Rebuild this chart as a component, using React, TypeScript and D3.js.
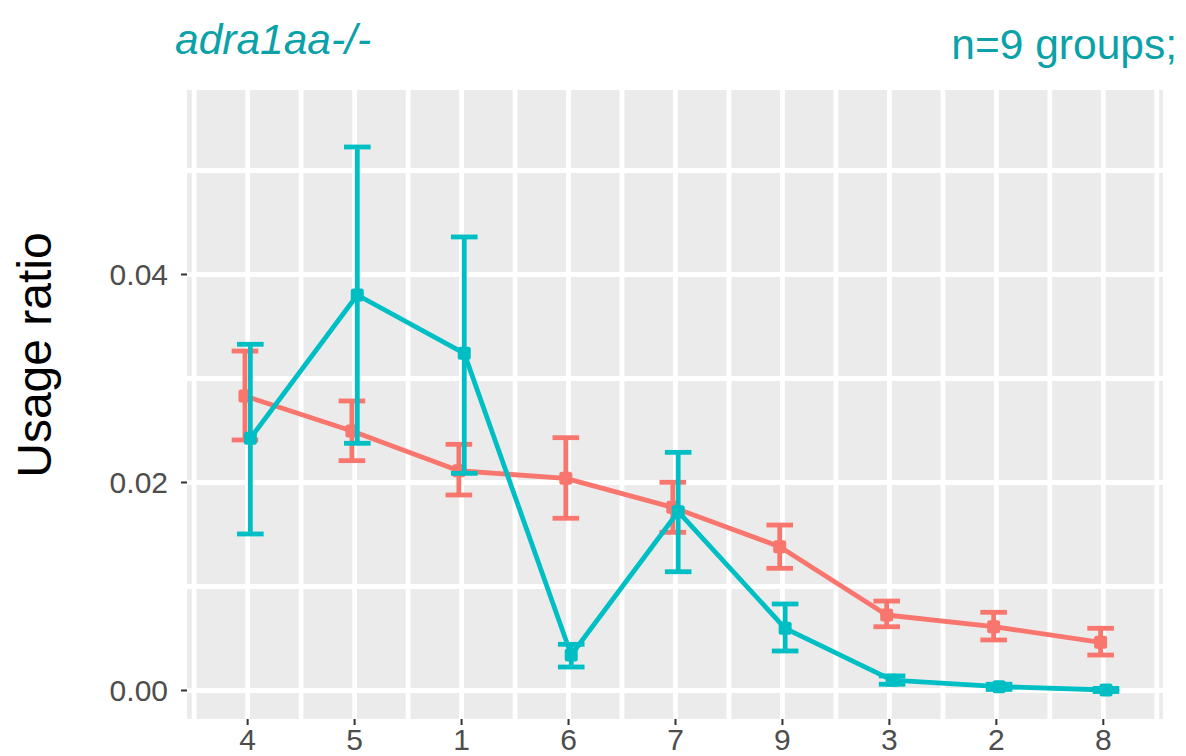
import React from "react";
import * as d3 from "d3";

const categories = ["4", "5", "1", "6", "7", "9", "3", "2", "8"];
const salmonMean = [0.02832, 0.02495, 0.02113, 0.0204, 0.01761, 0.01383, 0.00726, 0.00614, 0.00463];
const salmonLow = [0.02409, 0.0221, 0.0188, 0.01656, 0.01521, 0.01175, 0.00613, 0.00486, 0.00341];
const salmonHigh = [0.03264, 0.02784, 0.02367, 0.02431, 0.02002, 0.01591, 0.0086, 0.00752, 0.00598];
const tealMean = [0.02425, 0.03803, 0.03242, 0.00341, 0.01719, 0.00598, 0.00099, 0.00037, 0.00005];
const tealLow = [0.01505, 0.02377, 0.02088, 0.00226, 0.01142, 0.0038, 0.0006, 0.0001, -0.0001];
const tealHigh = [0.03329, 0.05226, 0.04361, 0.00444, 0.0229, 0.00832, 0.0014, 0.0006, 0.0002];
const yMajor = [0, 0.02, 0.04];
const yMinor = [0.01, 0.03, 0.05];
const yTickLabels = ["0.00", "0.02", "0.04"];
const titleLeft = "adra1aa-/-";
const titleRight = "n=9 groups;";
const yLabel = "Usage ratio";

const W = 1186, H = 756;
const panel = { left: 187, right: 1163, top: 90, bottom: 719 };
const FONT = "'Liberation Sans', Arial, sans-serif";

export default function App() {
  const x = d3.scaleLinear().domain([0.433, 9.558]).range([panel.left, panel.right]);
  const y = d3.scaleLinear().domain([0, 0.04]).range([690.5, 274.5]);
  const idx = categories.map((_, i) => i + 1);
  const xMinor = d3.range(0.5, categories.length + 1, 1);

  const series = [
    { color: "#F8766D", mean: salmonMean, lo: salmonLow, hi: salmonHigh, dx: -2.7 },
    { color: "#00BFC4", mean: tealMean, lo: tealLow, hi: tealHigh, dx: 2.7 },
  ];
  const line = d3.line<[number, number]>().x(d => d[0]).y(d => d[1]);

  return (
    <svg width={W} height={H} style={{ position: "absolute", left: 0, top: 0, background: "#fff" }}>
      <rect x={panel.left} y={panel.top} width={panel.right - panel.left} height={panel.bottom - panel.top} fill="#EBEBEB" />
      {yMinor.map(v => (
        <line key={"ym" + v} x1={panel.left} x2={panel.right} y1={y(v)} y2={y(v)} stroke="#fff" strokeWidth={4.8} />
      ))}
      {yMajor.map(v => (
        <line key={"yM" + v} x1={panel.left} x2={panel.right} y1={y(v)} y2={y(v)} stroke="#fff" strokeWidth={4.8} />
      ))}
      {xMinor.map(v => (
        <line key={"xm" + v} x1={x(v)} x2={x(v)} y1={panel.top} y2={panel.bottom} stroke="#fff" strokeWidth={4.8} />
      ))}
      {idx.map(v => (
        <line key={"xM" + v} x1={x(v)} x2={x(v)} y1={panel.top} y2={panel.bottom} stroke="#fff" strokeWidth={4.8} />
      ))}
      {series.map((s, si) => (
        <g key={si}>
          {idx.map((v, i) => {
            const cx = x(v) + s.dx;
            return (
              <g key={i}>
                <line x1={cx} x2={cx} y1={y(s.lo[i])} y2={y(s.hi[i])} stroke={s.color} strokeWidth={4.8} />
                <line x1={cx - 13.3} x2={cx + 13.3} y1={y(s.lo[i])} y2={y(s.lo[i])} stroke={s.color} strokeWidth={4.8} />
                <line x1={cx - 13.3} x2={cx + 13.3} y1={y(s.hi[i])} y2={y(s.hi[i])} stroke={s.color} strokeWidth={4.8} />
              </g>
            );
          })}
          <path
            d={line(idx.map((v, i) => [x(v) + s.dx, y(s.mean[i])]) as [number, number][]) || ""}
            fill="none"
            stroke={s.color}
            strokeWidth={4.8}
            strokeLinejoin="round"
          />
          {idx.map((v, i) => (
            <rect key={"p" + i} x={x(v) + s.dx - 6.5} y={y(s.mean[i]) - 6.5} width={13} height={13} rx={2.5} fill={s.color} />
          ))}
        </g>
      ))}
      {yMajor.map((v, i) => (
        <g key={"yt" + v}>
          <line x1={panel.left - 6} x2={panel.left} y1={y(v)} y2={y(v)} stroke="#333" strokeWidth={2} />
          <text x={168} y={y(v)} dy="0.36em" textAnchor="end" fontFamily={FONT} fontSize={30} fill="#4D4D4D">
            {yTickLabels[i]}
          </text>
        </g>
      ))}
      {idx.map((v, i) => (
        <g key={"xt" + v}>
          <line x1={x(v)} x2={x(v)} y1={panel.bottom} y2={panel.bottom + 6} stroke="#333" strokeWidth={2} />
          <text x={x(v)} y={750} textAnchor="middle" fontFamily={FONT} fontSize={30} fill="#4D4D4D">
            {categories[i]}
          </text>
        </g>
      ))}
      <text
        transform={`translate(51, 355) rotate(-90)`}
        textAnchor="middle"
        fontFamily={FONT}
        fontSize={48}
        fill="#000"
      >
        {yLabel}
      </text>
      <text x={175} y={54} fontFamily={FONT} fontStyle="italic" fontSize={42.5} fill="#0AA1A8">
        {titleLeft}
      </text>
      <text x={1177} y={59} textAnchor="end" fontFamily={FONT} fontSize={42.5} fill="#0AA1A8">
        {titleRight}
      </text>
    </svg>
  );
}
